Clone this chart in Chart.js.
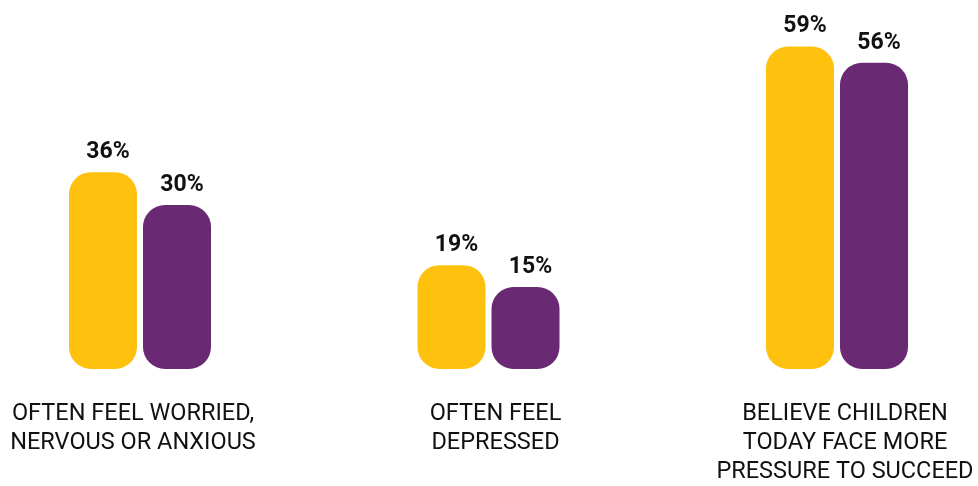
<!DOCTYPE html>
<html>
<head>
<meta charset="utf-8">
<script src="https://cdn.jsdelivr.net/npm/chart.js@4/dist/chart.umd.min.js"></script>
<style>
    html, body { margin: 0; padding: 0; background: #ffffff; }
    #chart { display: block; }
</style>
</head>
<body>
<canvas id="chart" width="978" height="486"></canvas>
<script>
// chart data
const categories = [
    ['OFTEN FEEL WORRIED,', 'NERVOUS OR ANXIOUS'],
    ['OFTEN FEEL', 'DEPRESSED'],
    ['BELIEVE CHILDREN', 'TODAY FACE MORE', 'PRESSURE TO SUCCEED']
];
const seriesA = [36, 19, 59];
const seriesB = [30, 15, 56];

const YELLOW = '#FEC10E';
const PURPLE = '#6A2973';

// value labels above each bar
const valueLabels = {
    id: 'valueLabels',
    afterDatasetsDraw(chart) {
        const ctx = chart.ctx;
        ctx.save();
        ctx.font = 'bold 23px Roboto';
        ctx.fillStyle = '#111111';
        ctx.textAlign = 'center';
        ctx.textBaseline = 'alphabetic';
        chart.data.datasets.forEach((ds, i) => {
            chart.getDatasetMeta(i).data.forEach((bar, j) => {
                ctx.fillText(ds.data[j] + '%', bar.x + 5, bar.y - 14);
            });
        });
        ctx.restore();
    }
};

// category text under each group (small nudge per group, as in the original layout)
const labelNudge = [-7, 7, 8];
const categoryLabels = {
    id: 'categoryLabels',
    afterDraw(chart) {
        const ctx = chart.ctx;
        const xScale = chart.scales.x;
        const bottom = chart.chartArea.bottom;
        ctx.save();
        ctx.font = '23.5px Roboto';
        ctx.fillStyle = '#111111';
        ctx.textAlign = 'center';
        ctx.textBaseline = 'middle';
        categories.forEach((lines, i) => {
            const x = xScale.getPixelForValue(i) + labelNudge[i];
            lines.forEach((line, k) => {
                ctx.fillText(line, x, bottom + 45 + k * 29);
            });
        });
        ctx.restore();
    }
};

new Chart(document.getElementById('chart').getContext('2d'), {
    type: 'bar',
    data: {
        labels: categories.map(c => c.join(' ')),
        datasets: [{
            data: seriesA,
            backgroundColor: YELLOW,
            borderRadius: 22,
            borderSkipped: false,
            clip: false
        }, {
            data: seriesB,
            backgroundColor: PURPLE,
            borderRadius: 22,
            borderSkipped: false,
            clip: false
        }]
    },
    options: {
        responsive: false,
        animation: false,
        devicePixelRatio: 1,
        categoryPercentage: 0.4247,
        barPercentage: 0.919,
        layout: {
            padding: { left: 140, right: 141, top: 0, bottom: 117 }
        },
        plugins: {
            legend: { display: false },
            tooltip: { enabled: false }
        },
        scales: {
            x: { display: false, offset: false },
            y: { display: false, min: 0, max: 67.5 }
        }
    },
    plugins: [valueLabels, categoryLabels]
});
</script>
</body>
</html>
